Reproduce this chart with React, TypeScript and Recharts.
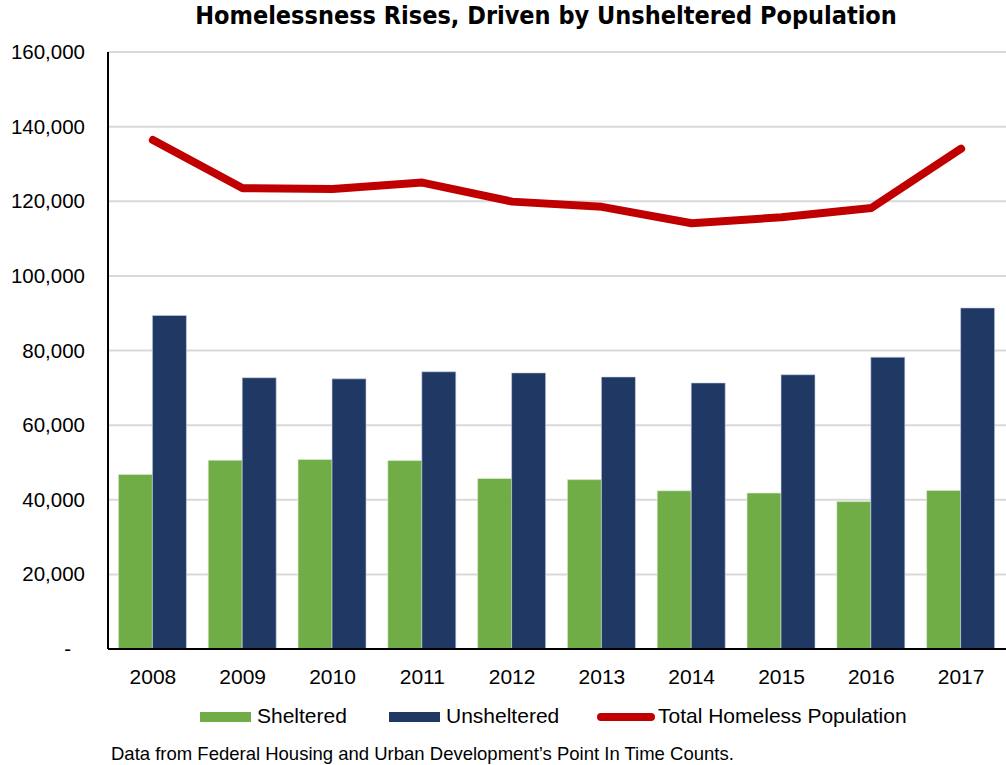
import React from 'react';
import { ComposedChart, Bar, Line, XAxis, YAxis, CartesianGrid } from 'recharts';

const years = ['2008', '2009', '2010', '2011', '2012', '2013', '2014', '2015', '2016', '2017'];
const sheltered = [46800, 50600, 50800, 50500, 45700, 45400, 42400, 41800, 39500, 42500];
const unsheltered = [89400, 72700, 72400, 74300, 74000, 72900, 71300, 73500, 78200, 91400];
const total = [136400, 123500, 123300, 125000, 119900, 118500, 114100, 115700, 118200, 134100];
const yTicks = [0, 20000, 40000, 60000, 80000, 100000, 120000, 140000, 160000];

const data = years.map((y, i) => ({
  year: y,
  sheltered: sheltered[i],
  unsheltered: unsheltered[i],
  total: total[i],
}));

const FONT = 'Liberation Sans, Arial, sans-serif';

const YTick = (props: any) => {
  const { x, y, payload } = props;
  const isZero = payload.value === 0;
  return (
    <text
      x={isZero ? x - 14 : x}
      y={y}
      dy={7}
      textAnchor="end"
      fontFamily={FONT}
      fontSize={20.5}
      fill="#000"
    >
      {isZero ? '-' : payload.value.toLocaleString('en-US')}
    </text>
  );
};

export default function App() {
  return (
    <div style={{ position: 'absolute', left: 0, top: 0, width: 1006, height: 765, background: '#fff', fontFamily: FONT }}>
      <div
        style={{
          position: 'absolute',
          left: 0,
          top: 1,
          width: 1092,
          textAlign: 'center',
          fontSize: 25,
          fontWeight: 'bold',
          fontFamily: 'DejaVu Sans Condensed, Liberation Sans, sans-serif',
          color: '#000',
        }}
      >
        Homelessness Rises, Driven by Unsheltered Population
      </div>
      <ComposedChart
        width={1006}
        height={765}
        data={data}
        margin={{ top: 52, right: 0, bottom: 86, left: 0 }}
        barCategoryGap="11.6%"
        barGap={0}
      >
        <CartesianGrid vertical={false} stroke="#d9d9d9" strokeWidth={2} />
        <XAxis
          dataKey="year"
          height={30}
          tickLine={false}
          axisLine={{ stroke: '#000', strokeWidth: 2 }}
          tick={{ fontFamily: FONT, fontSize: 21, fill: '#000' }}
          tickMargin={14}
        />
        <YAxis
          width={108}
          domain={[0, 160000]}
          ticks={yTicks}
          interval={0}
          tickLine={false}
          tickSize={0}
          tickMargin={23}
          axisLine={{ stroke: '#000', strokeWidth: 2 }}
          tick={<YTick />}
        />
        <Bar dataKey="sheltered" fill="#70ad47" stroke="#e2efda" strokeWidth={0.6} isAnimationActive={false} />
        <Bar dataKey="unsheltered" fill="#203864" stroke="#c9d3e3" strokeWidth={0.6} isAnimationActive={false} />
        <Line
          dataKey="total"
          stroke="#c00000"
          strokeWidth={8}
          strokeLinecap="round"
          strokeLinejoin="round"
          dot={false}
          isAnimationActive={false}
        />
      </ComposedChart>
      <div style={{ position: 'absolute', top: 703, left: 0, width: 1006, height: 28, fontSize: 21, color: '#000' }}>
        <div style={{ position: 'absolute', left: 200, top: 9, width: 51, height: 10, background: '#70ad47' }} />
        <div style={{ position: 'absolute', left: 257, top: 1 }}>Sheltered</div>
        <div style={{ position: 'absolute', left: 389, top: 9, width: 51, height: 10, background: '#203864' }} />
        <div style={{ position: 'absolute', left: 446, top: 1 }}>Unsheltered</div>
        <div style={{ position: 'absolute', left: 597, top: 10, width: 58, height: 8, borderRadius: 4, background: '#c00000' }} />
        <div style={{ position: 'absolute', left: 658, top: 1 }}>Total Homeless Population</div>
      </div>
      <div style={{ position: 'absolute', left: 111, top: 743, fontSize: 18.5, color: '#000' }}>
        Data from Federal Housing and Urban Development’s Point In Time Counts.
      </div>
    </div>
  );
}
